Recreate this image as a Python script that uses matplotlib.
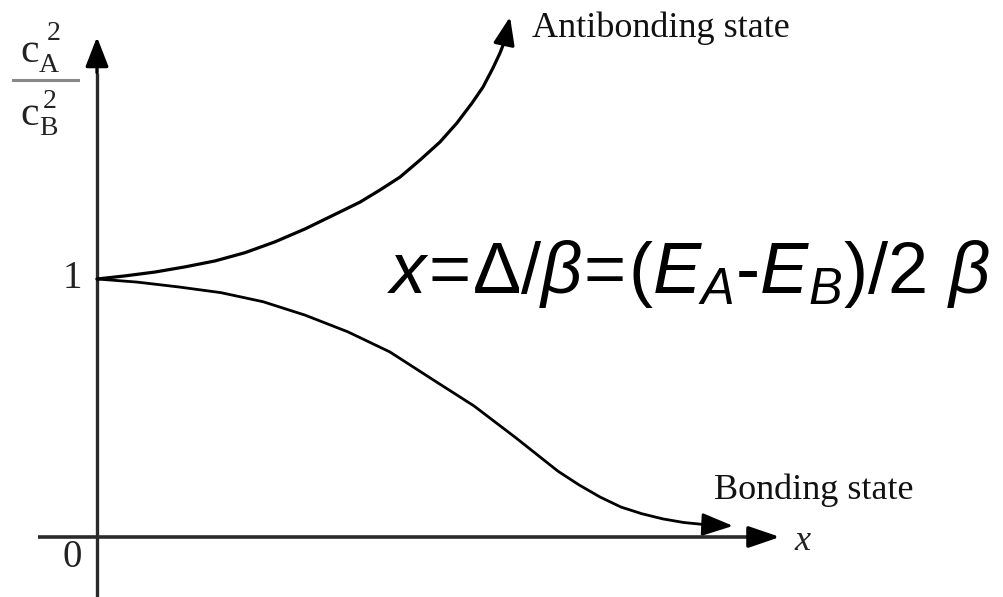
import numpy as np
import matplotlib
matplotlib.use("Agg")
import matplotlib.pyplot as plt

x_anti = [0.0, 0.28, 0.58, 0.88, 1.18, 1.48, 1.78, 2.08, 2.43, 2.63, 2.83,
          3.03, 3.23, 3.43, 3.60, 3.75, 3.86, 3.96, 4.03, 4.08, 4.13]
y_anti = [1.0, 1.012, 1.027, 1.047, 1.070, 1.102, 1.144, 1.194, 1.260, 1.298, 1.345,
          1.395, 1.461, 1.531, 1.605, 1.682, 1.744, 1.818, 1.876, 1.926, 2.016]

x_bond = [0.0, 0.40, 0.82, 1.24, 1.66, 2.08, 2.51, 2.93, 3.35, 3.77, 4.19,
          4.61, 4.82, 5.03, 5.24, 5.45, 5.66, 5.87, 6.08, 6.36]
y_bond = [1.0, 0.988, 0.969, 0.947, 0.912, 0.860, 0.795, 0.717, 0.612, 0.508, 0.384,
          0.255, 0.202, 0.155, 0.116, 0.090, 0.070, 0.056, 0.048, 0.043]

y_ticks = [1, 0]
y_tick_labels = ["1", "0"]

W, H = 1004, 597

plt.rcParams['mathtext.fontset'] = 'custom'
plt.rcParams['mathtext.it'] = 'Liberation Sans:italic'
plt.rcParams['mathtext.rm'] = 'Liberation Sans'
plt.rcParams['mathtext.sf'] = 'Liberation Sans'

fig = plt.figure(figsize=(W / 100, H / 100), dpi=100)
ax = fig.add_axes([0, 0, 1, 1])
ax.set_xlim(-0.97, 9.07)
ax.set_ylim(-0.2326, 2.0814)
ax.axis('off')


def at(px, py):
    # pixel position -> figure fraction
    return px / W, 1 - py / H


def arrow(x0, y0, x1, y1, lw, color='black', hl=20, hw=7):
    ax.annotate('', xy=(x1, y1), xytext=(x0, y0),
                arrowprops=dict(arrowstyle='-|>,head_length=%g,head_width=%g' % (hl / 10, hw / 10),
                                mutation_scale=10, lw=lw, color=color,
                                shrinkA=0, shrinkB=0))


# axes with arrow heads
axis_col = '#2a2a2a'
ax.plot([0, 0], [-0.2326, 1.80], color=axis_col, lw=2.4, solid_capstyle='butt')
arrow(0, 1.80, 0, 1.938, 2.4, color='black', hl=18, hw=7)
ax.plot([-0.59, 6.60], [0, 0], color=axis_col, lw=2.6, solid_capstyle='butt')
arrow(6.60, 0, 6.83, 0, 2.6, color='black', hl=19, hw=6.5)

# curves
ax.plot(x_anti[:-1], y_anti[:-1], color='black', lw=2.3,
        solid_capstyle='round', solid_joinstyle='round')
arrow(x_anti[-2], y_anti[-2], x_anti[-1], y_anti[-1], 2.3, hl=17, hw=6.5)
ax.plot(x_bond[:-1], y_bond[:-1], color='black', lw=2.0,
        solid_capstyle='round', solid_joinstyle='round')
arrow(x_bond[-2], y_bond[-2], x_bond[-1], y_bond[-1], 2.0, hl=19, hw=7)

# tick labels on the y axis ("0" sits just under the x axis)
label_y = [1.0, -0.08]
for yy, lab in zip(label_y, y_tick_labels):
    ax.text(-0.25, yy, lab, ha='center', va='center', fontsize=28,
            family='Liberation Serif', color='#222222')

serif = 'Liberation Serif'
fig.text(*at(532, 37), 'Antibonding state', fontsize=26, family=serif,
         ha='left', va='baseline', color='#111111')
fig.text(*at(714, 499), 'Bonding state', fontsize=26, family=serif,
         ha='left', va='baseline', color='#111111')
fig.text(*at(794, 550), 'x', fontsize=26, family=serif, style='italic',
         ha='left', va='baseline', color='#222222')

# y axis label c_A^2 / c_B^2 stacked as a fraction
fig.text(*at(20, 62), 'c', fontsize=30, family=serif, ha='left', va='baseline', color='#222222')
fig.text(*at(39, 72), 'A', fontsize=20, family=serif, ha='left', va='baseline', color='#222222')
fig.text(*at(47, 40), '2', fontsize=20, family=serif, ha='left', va='baseline', color='#222222')
fig.text(*at(20, 125), 'c', fontsize=30, family=serif, ha='left', va='baseline', color='#222222')
fig.text(*at(39, 135), 'B', fontsize=20, family=serif, ha='left', va='baseline', color='#222222')
fig.text(*at(43, 108), '2', fontsize=20, family=serif, ha='left', va='baseline', color='#222222')
x0, yb = at(13, 80)
x1, _ = at(78, 80)
fig.add_artist(plt.Line2D([x0, x1], [yb, yb], color='#888888', lw=2.2,
                          transform=fig.transFigure))

# definition of x
fig.text(*at(387, 293), r'$x\!=\!\Delta/\beta\!=\!(E_A\text{-}E_B)/2\ \beta$',
         fontsize=52, ha='left', va='baseline', color='black')

fig.savefig('out.png', dpi=100)
